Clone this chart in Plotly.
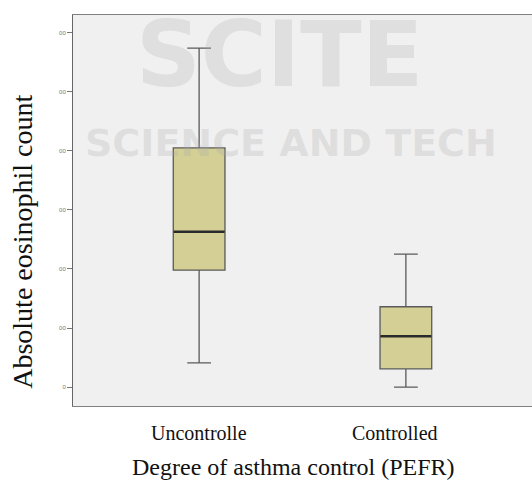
import plotly.graph_objects as go

categories = ["Uncontrolle", "Controlled"]
lower_whisker = [41, 0]
q1_vals = [198, 31]
median_vals = [263, 86]
q3_vals = [405, 136]
upper_whisker = [574, 225]
ytick_vals = [0, 100, 200, 300, 400, 500, 600]
ytick_text = ["0", "00", "00", "00", "00", "00", "00"]

xpos = list(range(len(categories)))
fig = go.Figure()

fig.add_trace(go.Box(
    x=xpos, q1=q1_vals, median=median_vals, q3=q3_vals,
    lowerfence=lower_whisker, upperfence=upper_whisker,
    fillcolor="#d3cf95", line=dict(color="#5a5a5a", width=1.3),
    width=0.25, whiskerwidth=0.46, boxpoints=False, showlegend=False,
    hoverinfo="skip"))

for i, m in zip(xpos, median_vals):
    fig.add_trace(go.Scatter(x=[i - 0.123, i + 0.123], y=[m, m], mode="lines",
                             line=dict(color="#2a2a2a", width=2.4),
                             showlegend=False, hoverinfo="skip"))

# faint watermark
fig.add_annotation(text="SCITE", xref="paper", yref="paper", x=0.45, y=1.038,
                   showarrow=False, font=dict(family="DejaVu Sans", size=90, weight="bold",
                                              color="rgba(170,170,170,0.25)"),
                   xanchor="center", yanchor="top")
fig.add_annotation(text="SCIENCE AND TECH", xref="paper", yref="paper", x=0.475, y=0.672,
                   showarrow=False, font=dict(family="DejaVu Sans", size=38, weight="bold",
                                              color="rgba(170,170,170,0.25)"),
                   xanchor="center", yanchor="middle")

label_x = [0, 0.947]
for lx, c in zip(label_x, categories):
    fig.add_annotation(text=c, x=lx, xref="x", y=-0.069, yref="paper", yanchor="middle",
                       showarrow=False, font=dict(family="Liberation Serif", size=20, color="#111"))

fig.add_annotation(text="Degree of asthma control (PEFR)", xref="paper", yref="paper",
                   x=0.48, y=-0.155, yanchor="middle", showarrow=False,
                   font=dict(family="Liberation Serif", size=24, color="#111"))

fig.add_annotation(text="Absolute eosinophil count", xref="paper", yref="paper",
                   x=0, xshift=-50, y=0.42, textangle=-90, xanchor="center", yanchor="middle",
                   showarrow=False, font=dict(family="Liberation Serif", size=28, color="#111"))

fig.update_layout(
    width=532, height=483,
    margin=dict(l=73, r=0, t=15, b=77),
    paper_bgcolor="white", plot_bgcolor="#f0f0f0",
    xaxis=dict(range=[-0.61, 1.61], showticklabels=False, ticks="", showgrid=False,
               zeroline=False, showline=True, mirror=True, linecolor="#808080", linewidth=1),
    yaxis=dict(range=[-32, 630], tickvals=ytick_vals, ticktext=ytick_text,
               ticks="outside", ticklen=5, tickcolor="#777", showgrid=False, zeroline=False,
               showline=True, linecolor="#666", linewidth=1,
               tickfont=dict(family="Liberation Sans", size=6, color="#777")),
)

fig.write_html("out.html", config={"displayModeBar": False},
               post_script="document.body.style.margin='0';document.body.style.overflow='hidden';")
